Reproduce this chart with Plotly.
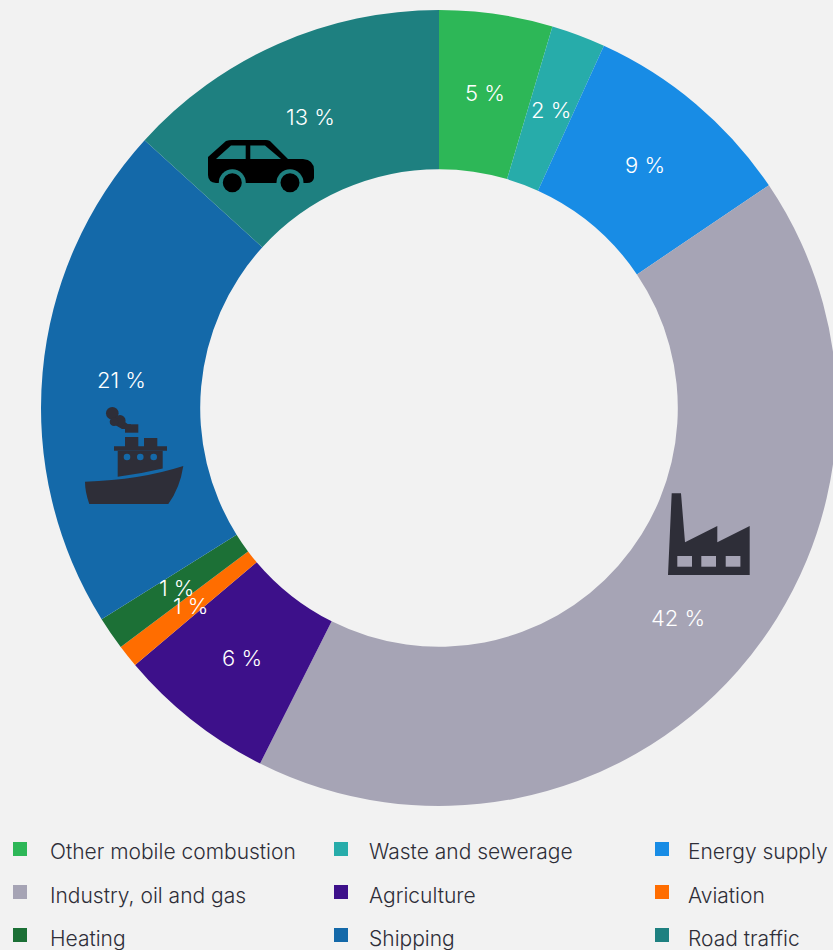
import math
import plotly.graph_objects as go

# Emission shares by source, in percent
categories = ["Other mobile combustion", "Waste and sewerage", "Energy supply",
              "Industry, oil and gas", "Agriculture", "Aviation",
              "Heating", "Shipping", "Road traffic"]
shares = [4.6, 2.2, 8.75, 41.87, 6.41, 0.92, 1.35, 20.65, 13.25]
colors = ["#2DB757", "#27ACAA", "#188CE5", "#A6A4B5", "#3D108A", "#FF6D00",
          "#1C7036", "#1469A9", "#1E8080"]

W, H = 837, 950
CX, CY, R, HOLE = 439, 408, 398, 0.6
BG = "#F2F2F2"
INK = "#2E2E38"
FONT = "Inter"


def px(x):
    return x / W


def py(y):
    return 1 - y / H


def path(*cmds):
    """Build an SVG path in paper units from (letter, x, y, ...) pixel commands."""
    out = []
    for c in cmds:
        pts = c[1:]
        coords = " ".join(
            f"{px(pts[i]):.5f},{py(pts[i + 1]):.5f}" for i in range(0, len(pts), 2)
        )
        out.append(f"{c[0]}{coords}")
    return " ".join(out) + " Z"


def blob(color, *cmds):
    return dict(type="path", xref="paper", yref="paper", path=path(*cmds),
                fillcolor=color, line=dict(width=0), layer="above")


def rect(color, x0, y0, x1, y1):
    return dict(type="rect", xref="paper", yref="paper", x0=px(x0), x1=px(x1),
                y0=py(y1), y1=py(y0), fillcolor=color, line=dict(width=0), layer="above")


def disc(color, x, y, r):
    return dict(type="circle", xref="paper", yref="paper", x0=px(x - r), x1=px(x + r),
                y0=py(y + r), y1=py(y - r), fillcolor=color, line=dict(width=0), layer="above")


fig = go.Figure(go.Pie(
    labels=categories, values=shares, sort=False, direction="clockwise", rotation=0,
    hole=HOLE, textinfo="none", hoverinfo="label+percent", showlegend=False,
    marker=dict(colors=colors, line=dict(width=0)),
    domain=dict(x=[(CX - R) / W, (CX + R) / W], y=[1 - (CY + R) / H, 1 - (CY - R) / H]),
))

shapes, annotations = [], []

# Percentage labels sit at the middle of each ring segment
total = sum(shares)
running = 0
for value in shares:
    mid = (running + value / 2) / total * 2 * math.pi
    running += value
    radius = R * (1 + HOLE) / 2
    annotations.append(dict(
        xref="paper", yref="paper", xanchor="center", yanchor="middle", showarrow=False,
        x=px(CX + radius * math.sin(mid)), y=py(CY - radius * math.cos(mid)),
        text=f"{value:.0f} %", font=dict(family=FONT, size=22, color="#FFFFFF", weight=300),
    ))

# Three-column legend
col_swatch = [13, 334, 655]
col_text = [48, 367, 686]
row_top = [842, 885, 928]
row_text = [851, 895, 938]
for i, (name, color) in enumerate(zip(categories, colors)):
    row, col = divmod(i, 3)
    shapes.append(rect(color, col_swatch[col], row_top[row],
                       col_swatch[col] + 14, row_top[row] + 14))
    annotations.append(dict(
        xref="paper", yref="paper", xanchor="left", yanchor="middle", showarrow=False,
        x=px(col_text[col]), y=py(row_text[row]), text=name,
        font=dict(family=FONT, size=21, color=INK, weight=300),
    ))

# Factory icon
road, ship_bg, grey = colors[8], colors[7], colors[3]
shapes.append(blob(INK, ("M", 671.7, 493.3), ("L", 681, 493.3), ("L", 685, 542.3),
                   ("L", 717.3, 526), ("L", 717.3, 542.3), ("L", 749.7, 526),
                   ("L", 749.7, 575), ("L", 668, 575)))
for x0 in (677.3, 701.3, 725.7):
    shapes.append(rect(grey, x0, 556, x0 + 14.7, 566.7))

# Car icon
shapes.append(blob("#000000", ("M", 208, 157), ("L", 226, 141), ("Q", 229, 140, 232, 140),
                   ("L", 266, 140), ("Q", 268, 140, 270, 141), ("L", 288, 159),
                   ("L", 303, 159), ("Q", 314, 160, 314, 170), ("L", 314, 178),
                   ("Q", 313, 183, 307, 183), ("L", 216, 183), ("Q", 208, 182, 208, 175)))
shapes.append(blob(road, ("M", 216, 159), ("L", 231, 145.5), ("L", 245.7, 145.5), ("L", 245.7, 159)))
shapes.append(blob(road, ("M", 250.3, 145.5), ("L", 265, 145.5), ("L", 281, 159), ("L", 250.3, 159)))
for cx in (232.3, 290):
    shapes.append(disc(road, cx, 182.7, 13.5))
    shapes.append(disc("#000000", cx, 182.7, 9.5))

# Ship icon
shapes.append(blob(INK, ("M", 85, 481.7), ("Q", 140, 480, 183.3, 466), ("Q", 180, 488, 168.3, 504),
                   ("L", 89.3, 504), ("Q", 85, 492, 85, 481.7)))
shapes.append(blob(INK, ("M", 117.7, 450.7), ("L", 162.7, 450.7), ("L", 162.7, 468.5),
                   ("Q", 140, 474, 117.7, 476.7)))
shapes.append(rect(INK, 114, 446.3, 167, 450.7))
shapes.append(rect(INK, 125, 437, 138.3, 447))
shapes.append(rect(INK, 144, 438, 157.3, 447))
shapes.append(rect(INK, 125, 424.3, 138.3, 432.7))
shapes.append(blob(INK, ("M", 118, 417), ("L", 128, 424.3), ("L", 131, 424.3), ("L", 131, 429),
                   ("L", 122, 429), ("L", 110, 422)))
shapes.append(disc(INK, 112.3, 413.3, 6.3))
shapes.append(disc(INK, 120, 420.7, 5.6))
shapes.append(disc(INK, 114, 421.7, 4.3))
for cx in (127, 140.3, 153.7):
    shapes.append(disc(ship_bg, cx, 457, 3.3))

fig.update_layout(
    width=W, height=H, margin=dict(l=0, r=0, t=0, b=0, pad=0),
    paper_bgcolor=BG, plot_bgcolor=BG, font=dict(family=FONT),
    shapes=shapes, annotations=annotations,
)

fig.write_html("out.html", post_script="document.documentElement.style.overflow='hidden';")
